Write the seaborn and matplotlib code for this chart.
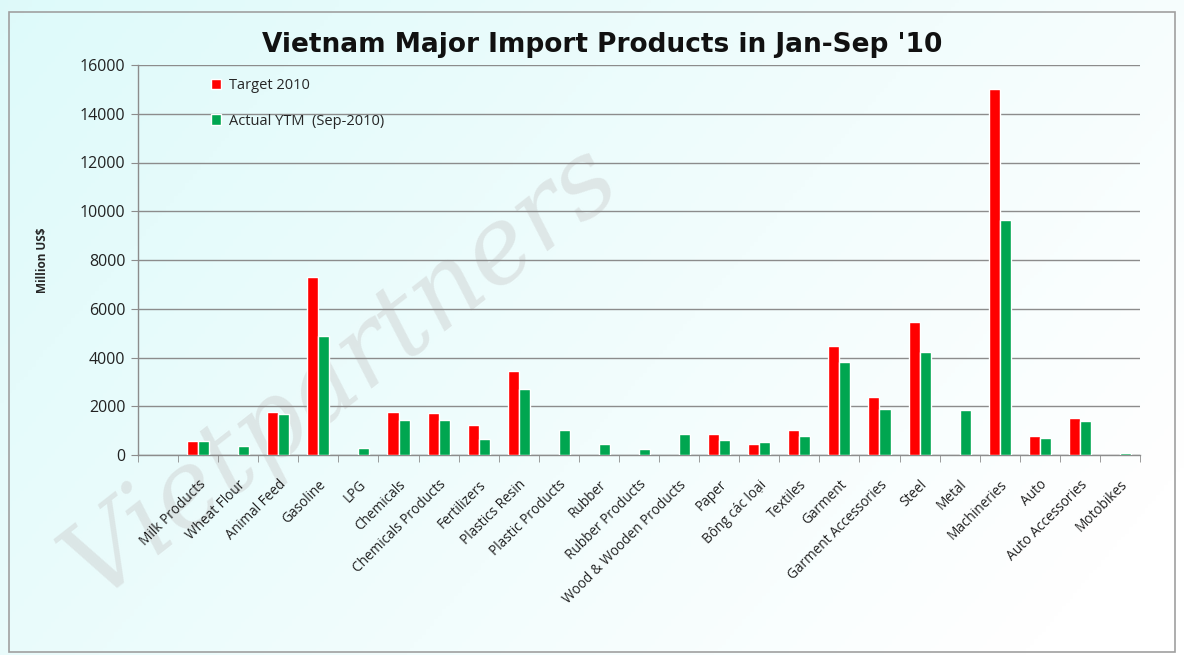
import numpy as np
import pandas as pd
import matplotlib
matplotlib.use("Agg")
import matplotlib.pyplot as plt
from matplotlib.patches import Rectangle
from matplotlib.ticker import MultipleLocator
import seaborn as sns

# values (million US$), None = no bar
categories = ["", "Milk Products", "Wheat Flour", "Animal Feed", "Gasoline", "LPG",
              "Chemicals", "Chemicals Products", "Fertilizers", "Plastics Resin",
              "Plastic Products", "Rubber", "Rubber Products", "Wood & Wooden Products",
              "Paper", "Bông các loại", "Textiles", "Garment", "Garment Accessories",
              "Steel", "Metal", "Machineries", "Auto", "Auto Accessories", "Motobikes"]
target_2010 = [None, 570, None, 1780, 7300, None, 1780, 1720, 1230, 3450,
               None, None, None, None, 850, 465, 1010, 4480, 2390,
               5470, None, 15000, 790, 1500, None]
actual_ytm = [None, 570, 350, 1670, 4880, 290, 1450, 1450, 670, 2710,
              1010, 460, 245, 850, 630, 520, 790, 3820, 1890,
              4210, 1850, 9650, 685, 1395, 70]
series_names = ["Target 2010", "Actual YTM  (Sep-2010)"]
colors = ["#FF0000", "#00A650"]

rows = []
for cat, t, a in zip(categories, target_2010, actual_ytm):
    if t is not None:
        rows.append((cat, series_names[0], t))
    if a is not None:
        rows.append((cat, series_names[1], a))
df = pd.DataFrame(rows, columns=["product", "series", "value"])

sns.set_style("white")
plt.rcParams["font.family"] = ["Open Sans", "DejaVu Sans"]

W, H = 1184, 655
fig = plt.figure(figsize=(W / 100, H / 100), dpi=100)

# background gradient + faint watermark
bg = fig.add_axes([0, 0, 1, 1], zorder=-10)
xx, yy = np.meshgrid(np.linspace(0, 1, 300), np.linspace(0, 1, 200))
t = np.clip(0.75 * xx + 0.35 * yy, 0, 1)
c0 = np.array([0.87, 0.98, 0.98])
c1 = np.array([1.0, 1.0, 1.0])
img = c0[None, None, :] * (1 - t[..., None]) + c1[None, None, :] * t[..., None]
bg.imshow(img, extent=[0, 1, 0, 1], aspect="auto", origin="upper")
bg.text(95 / W, 1 - 600 / H, "Vietpartners", fontsize=76, rotation=38, color="#c8c8c8",
        alpha=0.4, family="DejaVu Serif", style="italic",
        ha="left", va="baseline", transform=bg.transAxes,
        rotation_mode="anchor")
bg.set_xlim(0, 1)
bg.set_ylim(0, 1)
bg.axis("off")
fig.patches.append(Rectangle((9 / W, 1 - 652 / H), 1166 / W, 640 / H, fill=False,
                             edgecolor="#a0a0a0", lw=1.2, transform=fig.transFigure))

ax = fig.add_axes([138 / W, 1 - 455 / H, (1140 - 138) / W, (455 - 65) / H])
ax.set_facecolor("none")
sns.barplot(data=df, x="product", y="value", hue="series", order=categories,
            hue_order=series_names, palette=colors, width=0.55, saturation=1,
            errorbar=None, ax=ax, zorder=3)

ax.set_ylim(0, 16000)
ax.set_xlim(-0.5, len(categories) - 0.5)
ax.yaxis.set_major_locator(MultipleLocator(2000))
ax.yaxis.grid(True, color="#8c8c8c", lw=1)
ax.set_axisbelow(True)
for s in ["top", "right"]:
    ax.spines[s].set_visible(False)
for s in ["left", "bottom"]:
    ax.spines[s].set_color("#8c8c8c")
    ax.spines[s].set_linewidth(1)

ax.tick_params(axis="y", left=True, length=5, color="#8c8c8c", labelsize=11.5,
               labelcolor="#222222", pad=4)
ax.set_xticks(range(len(categories)))
ax.set_xticklabels(categories, rotation=45, ha="right", rotation_mode="anchor",
                   fontsize=9.8, color="#222222")
ax.tick_params(axis="x", which="major", length=0, pad=16)
ax.set_xticks(np.arange(-0.5, len(categories), 1), minor=True)
ax.tick_params(axis="x", which="minor", bottom=True, length=5, color="#8c8c8c")

ax.set_xlabel("")
ax.set_ylabel("Million US$", fontsize=8.5, fontweight="bold", labelpad=22)

ax.legend(loc="upper left", bbox_to_anchor=(0.06, 1.0), frameon=False,
          fontsize=10.5, labelspacing=1.4, handlelength=0.7, handleheight=0.7,
          handletextpad=0.5)

fig.text(602 / W, 1 - 45 / H, "Vietnam Major Import Products in Jan-Sep '10",
         family="DejaVu Sans", fontweight="bold", fontsize=19, ha="center",
         va="center", color="#111111")

fig.savefig("out.png", dpi=100)
